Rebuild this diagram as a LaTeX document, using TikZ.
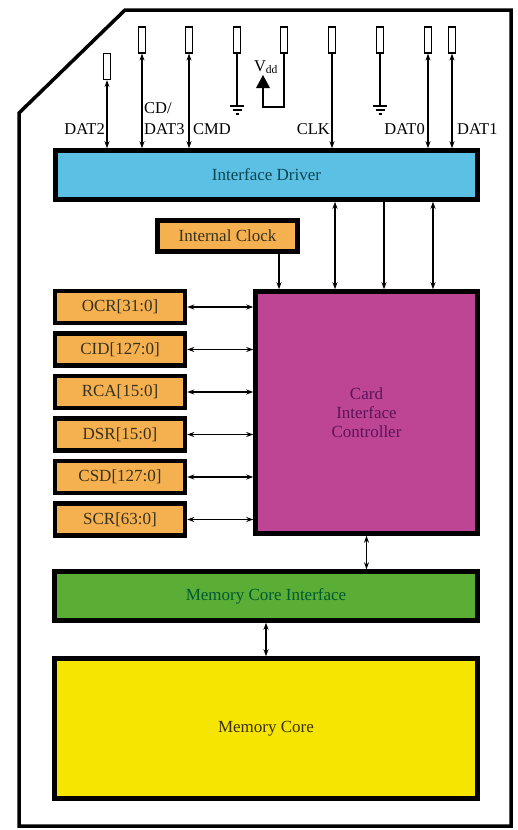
\documentclass[tikz,border=0pt]{standalone}
\usepackage{fontspec}
\setmainfont{Liberation Serif}
\usepackage{tikz}
\usetikzlibrary{arrows.meta,positioning}

\definecolor{drvblue}{RGB}{92,192,228}
\definecolor{drvtext}{RGB}{10,70,80}
\definecolor{regorange}{RGB}{245,176,80}
\definecolor{regtext}{RGB}{55,50,30}
\definecolor{ctrlmag}{RGB}{190,69,148}
\definecolor{ctrltext}{RGB}{90,20,90}
\definecolor{mcigreen}{RGB}{90,174,53}
\definecolor{mcitext}{RGB}{0,90,50}
\definecolor{coreyellow}{RGB}{245,229,0}
\definecolor{coretext}{RGB}{60,50,0}

\tikzset{
  blk/.style={draw, line width=4.5pt, outer sep=2.25pt, inner sep=0pt,
    font=\fontsize{17}{19}\selectfont, align=center},
  reg/.style={blk, fill=regorange, text=regtext, minimum width=130pt, minimum height=32pt},
  res/.style={draw, line width=1.2pt, fill=white, minimum width=7pt, minimum height=26pt, inner sep=0pt},
  pin/.style={line width=1.2pt},
  lbl/.style={inner sep=0pt, font=\fontsize{16.5}{18}\selectfont},
  gnd/.pic={\draw[line width=1.2pt] (-7,0) -- (7,0) (-4.5,4) -- (4.5,4) (-1.5,8) -- (1.5,8);}
}

\begin{document}
\begin{tikzpicture}[x=1pt, y=-1pt, >={Stealth[length=7pt,width=5pt]}]
    \useasboundingbox (0,0) rectangle (518,830);

    % card outline
    \draw[line width=3.5pt, line join=miter] (125,10) -- (511,10) -- (511,826) -- (19,826) -- (19,113) -- cycle;

    % blocks
    \node[blk, fill=drvblue, text=drvtext, minimum width=422pt, minimum height=49pt] (drv) at (266.5,175) {Interface Driver};
    \node[blk, fill=regorange, text=regtext, minimum width=140pt, minimum height=31pt] (clk) at (227.5,236) {Internal Clock};
    \node[blk, fill=ctrlmag, text=ctrltext, minimum width=222pt, minimum height=242pt] (ctrl) at (366.5,412.5) {Card\\Interface\\Controller};
    \node[blk, fill=mcigreen, text=mcitext, minimum width=423pt, minimum height=49pt] (mci) at (266,596) {Memory Core Interface};
    \node[blk, fill=coreyellow, text=coretext, minimum width=423pt, minimum height=140pt] (core) at (266,728.5) {Memory Core};

    % registers
    \node[reg] (ocr) at (120,307) {OCR[31:0]};
    \node[reg, below=6pt of ocr] (cid) {CID[127:0]};
    \node[reg, below=6pt of cid] (rca) {RCA[15:0]};
    \node[reg, below=6pt of rca] (dsr) {DSR[15:0]};
    \node[reg, below=6pt of dsr] (csd) {CSD[127:0]};
    \node[reg, below=6pt of csd] (scr) {SCR[63:0]};

    % pull-up resistors
    \node[res] (rdat2) at (107,66.5) {};
    \node[res] (rdat3) at (142,40) {};
    \node[res] (rcmd) at (189,40) {};
    \node[res] (rgnda) at (237,40) {};
    \node[res] (rvdd) at (284,40) {};
    \node[res] (rclk) at (332,40) {};
    \node[res] (rgndb) at (380,40) {};
    \node[res] (rdat0) at (428,40) {};
    \node[res] (rdat1) at (452,40) {};

    % pin labels
    \node[lbl, anchor=base east] (ldat2) at (105,134) {DAT2};
    \node[lbl, anchor=base west] (lcd) at (144,113) {CD/};
    \node[lbl, anchor=base west] (ldat3) at (144,134) {DAT3};
    \node[lbl, anchor=base west] (lcmd) at (193,134) {CMD};
    \node[lbl, anchor=base east] (lclk) at (330,134) {CLK};
    \node[lbl, anchor=base east] (ldat0) at (425,134) {DAT0};
    \node[lbl, anchor=base west] (ldat1) at (457,134) {DAT1};
    \node[lbl, anchor=base] (vdd) at (266,71) {V\textsubscript{dd}};

    % pins to driver
    \draw[pin,<->] (rdat2.south) -- (rdat2.south |- drv.north);
    \draw[pin,<->] (rdat3.south) -- (rdat3.south |- drv.north);
    \draw[pin,<->] (rcmd.south) -- (rcmd.south |- drv.north);
    \draw[pin,->] (rclk.south) -- (rclk.south |- drv.north);
    \draw[pin,<->] (rdat0.south) -- (rdat0.south |- drv.north);
    \draw[pin,<->] (rdat1.south) -- (rdat1.south |- drv.north);

    % grounds and supply
    \coordinate (gnda) at (237,106);
    \coordinate (gndb) at (380,106);
    \draw[pin] (rgnda.south) -- (gnda);
    \draw[pin] (rgndb.south) -- (gndb);
    \pic at (gnda) {gnd};
    \pic at (gndb) {gnd};
    \coordinate (vtip) at (263,88);
    \draw[pin] (rvdd.south) |- (263,107) -- (vtip);
    \fill (vtip) ++(-7,0) -- ++(14,0) -- ++(-7,-13) -- cycle;

    % driver to controller
    \coordinate (b1) at (335,0);
    \coordinate (b2) at (384,0);
    \coordinate (b3) at (433,0);
    \coordinate (b4) at (279,0);
    \draw[pin,<->] (b1 |- drv.south) -- (b1 |- ctrl.north);
    \draw[pin,->] (b2 |- drv.south) -- (b2 |- ctrl.north);
    \draw[pin,<->] (b3 |- drv.south) -- (b3 |- ctrl.north);
    \draw[pin,->] (b4 |- clk.south) -- (b4 |- ctrl.north);

    % registers to controller
    \draw[pin,<->] (ocr.east) -- (ocr.east -| ctrl.west);
    \draw[pin,<->] (cid.east) -- (cid.east -| ctrl.west);
    \draw[pin,<->] (rca.east) -- (rca.east -| ctrl.west);
    \draw[pin,<->] (dsr.east) -- (dsr.east -| ctrl.west);
    \draw[pin,<->] (csd.east) -- (csd.east -| ctrl.west);
    \draw[pin,<->] (scr.east) -- (scr.east -| ctrl.west);

    % memory path
    \draw[pin,<->] (ctrl.south) -- (ctrl.south |- mci.north);
    \draw[pin,<->] (mci.south) -- (core.north);
\end{tikzpicture}
\end{document}
